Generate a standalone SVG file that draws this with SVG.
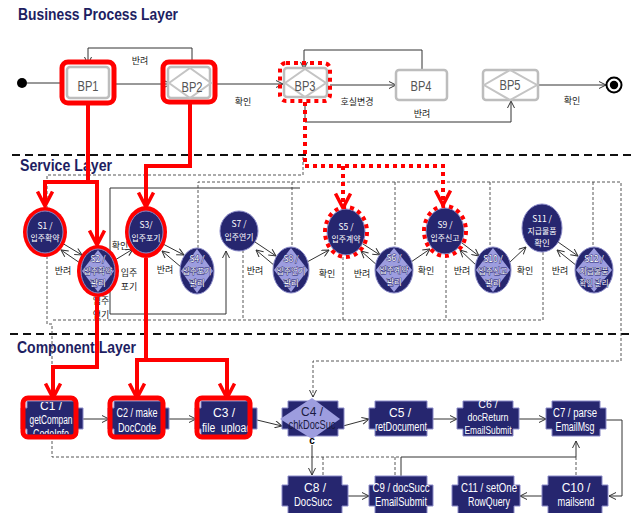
<svg xmlns="http://www.w3.org/2000/svg" width="632" height="513" viewBox="0 0 632 513">
<defs>
<style>
.title{font-family:'Liberation Sans',Arial,sans-serif;font-weight:bold;fill:#1e1e62;font-size:16px}
.lbl{font-family:'Noto Sans CJK KR',sans-serif;font-size:9px;fill:#222;text-anchor:middle}
.bp{fill:#fff;stroke:#bdbdbd;stroke-width:2.5}
.bpd{fill:none;stroke:#c4c4c4;stroke-width:2}
.bpt{font-family:'Liberation Sans',Arial,sans-serif;font-size:14px;fill:#555;text-anchor:middle}
.ln{fill:none;stroke:#333;stroke-width:1}
.dl{fill:none;stroke:#444;stroke-width:0.9;stroke-dasharray:3,2}
.div{fill:none;stroke:#111;stroke-width:2;stroke-dasharray:8,5}
.red{fill:none;stroke:#f00;stroke-width:4}
.redd{fill:none;stroke:#f00;stroke-width:4;stroke-dasharray:4,4}
.sn{fill:#26266f;stroke:#8a8ac8;stroke-width:1}
.dia{fill:#9d9ddf}
.st{font-family:'Noto Sans CJK KR',sans-serif;font-size:8.5px;fill:#fff;text-anchor:middle}
.so{stroke:#26266f;stroke-width:0.9;paint-order:stroke}
.cp{fill:#26266f;stroke:#8a8ac8;stroke-width:1}
.ct{font-family:'Liberation Sans',Arial,sans-serif;font-size:12px;fill:#fff;text-anchor:middle}
</style>
<marker id="a" viewBox="0 0 8 8" refX="7.5" refY="4" markerWidth="8" markerHeight="8" markerUnits="userSpaceOnUse" orient="auto">
<path d="M0.5,0.5 L7.5,4 L0.5,7.5" fill="none" stroke="#333" stroke-width="1"/>
</marker>
<marker id="r" viewBox="0 0 18 18" refX="16" refY="9" markerWidth="18" markerHeight="18" markerUnits="userSpaceOnUse" orient="auto">
<path d="M1.5,1.5 L16,9 L1.5,16.5" fill="none" stroke="#f00" stroke-width="3.5"/>
</marker>
<clipPath id="k1"><rect x="25" y="402" width="51" height="32"/></clipPath>
<clipPath id="k2"><rect x="112" y="402" width="50" height="32"/></clipPath>
<clipPath id="k3"><rect x="199" y="402" width="50" height="32"/></clipPath>
</defs>
<rect width="632" height="513" fill="#fff"/>

<!-- titles and dividers -->
<text class="title" x="18" y="20" textLength="160" lengthAdjust="spacingAndGlyphs">Business Process Layer</text>
<text class="title" x="20" y="171" textLength="92" lengthAdjust="spacingAndGlyphs">Service Layer</text>
<text class="title" x="17" y="353" textLength="119" lengthAdjust="spacingAndGlyphs">Component Layer</text>
<path class="div" d="M12,155 H632"/>
<path class="div" d="M10,334 H632"/>

<g id="connectors">
<!-- BP layer -->
<path class="ln" d="M27,83 H62"/>
<path class="ln" d="M114,84 H171" marker-end="url(#a)"/>
<path class="ln" d="M192,62 V48 H88 V64" marker-end="url(#a)"/>
<path class="ln" d="M215,84 H283" marker-end="url(#a)"/>
<path class="ln" d="M330,85 H396" marker-end="url(#a)"/>
<path class="ln" d="M422,70 V50 H304 V69" marker-end="url(#a)"/>
<path class="ln" d="M305,102 V122 H511 V101" marker-end="url(#a)"/>
<path class="ln" d="M538,85 H606" marker-end="url(#a)"/>
<text class="lbl" x="140" y="64">반려</text>
<text class="lbl" x="243" y="105">확인</text>
<text class="lbl" x="357" y="105">호실변경</text>
<text class="lbl" x="422" y="117">반려</text>
<text class="lbl" x="572" y="104">확인</text>

<!-- service dashed -->
<path class="dl" d="M303,157 V175 H47 V324 H52 V457 H400"/>
<path class="dl" d="M198,248 V182 H621 V361 H313 V397" marker-end="url(#a)"/>
<path class="dl" d="M292,182 V247 M395,182 V247 M490,182 V247 M593,182 V247"/>
<path class="dl" d="M53,320 H543 M243,250 V320 M343,257 V320 M446,255 V320 M543,252 V320"/>

<!-- gray solid frame -->
<path class="ln" stroke="#666" d="M300,188 H110 V314 H226 V251" marker-end="url(#a)"/>

<!-- service arrows -->
<path class="ln" d="M62,243 L82,255" marker-end="url(#a)"/>
<path class="ln" d="M80,263 L61,250" marker-end="url(#a)"/>
<path class="ln" d="M115,260 L133,249" marker-end="url(#a)"/>
<path class="ln" d="M163,244 L184,255" marker-end="url(#a)"/>
<path class="ln" d="M181,267 L162,251" marker-end="url(#a)"/>
<path class="ln" d="M255,242 L276,256" marker-end="url(#a)"/>
<path class="ln" d="M275,266 L256,250" marker-end="url(#a)"/>
<path class="ln" d="M307,262 L329,250" marker-end="url(#a)"/>
<path class="ln" d="M363,244 L380,255" marker-end="url(#a)"/>
<path class="ln" d="M378,266 L361,251" marker-end="url(#a)"/>
<path class="ln" d="M411,262 L430,249" marker-end="url(#a)"/>
<path class="ln" d="M462,243 L479,256" marker-end="url(#a)"/>
<path class="ln" d="M477,266 L460,250" marker-end="url(#a)"/>
<path class="ln" d="M510,262 L526,247" marker-end="url(#a)"/>
<path class="ln" d="M558,242 L578,256" marker-end="url(#a)"/>
<path class="ln" d="M577,266 L557,250" marker-end="url(#a)"/>
<text class="lbl" x="63" y="274">반려</text>
<text class="lbl" x="120" y="249">확인</text>
<text class="lbl" x="129" y="276">입주</text>
<text class="lbl" x="129" y="290">포기</text>
<text class="lbl" x="101" y="304">입주</text>
<text class="lbl" x="101" y="318">연기</text>
<text class="lbl" x="165" y="273">반려</text>
<text class="lbl" x="255" y="274">반려</text>
<text class="lbl" x="327" y="277">확인</text>
<text class="lbl" x="362" y="277">반려</text>
<text class="lbl" x="426" y="274">확인</text>
<text class="lbl" x="462" y="274">반려</text>
<text class="lbl" x="525" y="274">확인</text>
<text class="lbl" x="560" y="274">반려</text>

<!-- component connectors -->
<path class="ln" d="M83,419 H109" marker-end="url(#a)"/>
<path class="ln" d="M169,419 H196" marker-end="url(#a)"/>
<path class="ln" d="M257,420 L282,426" marker-end="url(#a)"/>
<path class="ln" d="M343,426 L369,419" marker-end="url(#a)"/>
<path class="ln" d="M433,419 H457" marker-end="url(#a)"/>
<path class="ln" d="M519,419 H546" marker-end="url(#a)"/>
<path class="ln" d="M606,420 H622 V496 H609" marker-end="url(#a)"/>
<path class="ln" d="M547,496 H520" marker-end="url(#a)"/>
<path class="ln" d="M348,496 H369" marker-end="url(#a)"/>
<path class="ln" d="M312,445 V475" marker-end="url(#a)"/>
<path class="ln" d="M401,476 V457 H576 V441" marker-end="url(#a)"/>
<path class="dl" d="M323,457 V476 M395,457 V476 M576,457 V476"/>

<!-- red trace lines -->
<path class="red" d="M88,103 V182 H45 V206" marker-end="url(#r)"/>
<path class="red" d="M88,182 H97 V245" marker-end="url(#r)"/>
<path class="red" d="M97,297 V367 H53 V398" marker-end="url(#r)"/>
<path class="red" d="M190,102 V166 H146 V207" marker-end="url(#r)"/>
<path class="red" d="M146,258 V360 H137 V398" marker-end="url(#r)"/>
<path class="red" d="M146,360 H227 V398" marker-end="url(#r)"/>
<path class="redd" d="M305,102 V166 H443 V205" marker-end="url(#r)"/>
<path class="redd" d="M343,166 V208" marker-end="url(#r)"/>
</g>

<!-- BP nodes -->
<circle cx="22" cy="83" r="5" fill="#000"/>
<g id="end"><circle cx="614" cy="85" r="7.5" fill="#fff" stroke="#000" stroke-width="2"/><circle cx="614" cy="85" r="4.2" fill="#000"/></g>
<g id="BP1">
<rect x="62" y="62" width="52" height="41" rx="6" fill="none" stroke="#f00" stroke-width="5"/>
<rect class="bp" x="67" y="67" width="42" height="31" rx="3"/>
<text class="bpt" x="88" y="91" textLength="21" lengthAdjust="spacingAndGlyphs">BP1</text>
</g>
<g id="BP2">
<rect x="163" y="62" width="52" height="40" rx="6" fill="none" stroke="#f00" stroke-width="5"/>
<rect class="bp" x="168" y="67" width="42" height="31" rx="3"/>
<polygon class="bpd" points="169,83 190,68 211,83 190,98"/>
<text class="bpt" x="192" y="92" textLength="21" lengthAdjust="spacingAndGlyphs">BP2</text>
</g>
<g id="BP3">
<rect class="bp" x="284" y="68" width="43" height="29" rx="3"/>
<polygon class="bpd" points="285,83 305,69 326,83 305,97"/>
<text class="bpt" x="305" y="91" textLength="21" lengthAdjust="spacingAndGlyphs">BP3</text>
<rect x="280" y="63" width="50" height="38" rx="6" fill="none" stroke="#f00" stroke-width="4" stroke-dasharray="4,4"/>
</g>
<g id="BP4">
<rect class="bp" x="396" y="70" width="51" height="30" rx="3"/>
<text class="bpt" x="421" y="91" textLength="21" lengthAdjust="spacingAndGlyphs">BP4</text>
</g>
<g id="BP5">
<rect class="bp" x="483" y="70" width="55" height="30" rx="3"/>
<polygon class="bpd" points="484,85 510,70 537,85 510,100"/>
<text class="bpt" x="510" y="90" textLength="21" lengthAdjust="spacingAndGlyphs">BP5</text>
</g>

<!-- Service nodes -->
<g id="S1">
<ellipse cx="45" cy="232" rx="22" ry="25" fill="#f00"/>
<ellipse class="sn" cx="45" cy="232" rx="18" ry="21"/>
<text class="st" x="45" y="229">S1 /</text>
<text class="st" x="45" y="241" textLength="29" lengthAdjust="spacingAndGlyphs">입주확약</text>
</g>
<g id="S2">
<ellipse cx="98" cy="271" rx="21" ry="26" fill="#f00"/>
<ellipse class="sn" cx="98" cy="271" rx="17" ry="22"/>
<polygon class="dia" points="98,250 114,271 98,292 82,271"/>
<text class="st so" x="98" y="262">S2 /</text>
<text class="st so" x="98" y="274" textLength="29" lengthAdjust="spacingAndGlyphs">입주확약</text>
<text class="st so" x="98" y="286">관리</text>
</g>
<g id="S3">
<ellipse cx="146" cy="232" rx="21" ry="26" fill="#f00"/>
<ellipse class="sn" cx="146" cy="232" rx="17" ry="21"/>
<text class="st" x="146" y="228">S3/</text>
<text class="st" x="146" y="241" textLength="29" lengthAdjust="spacingAndGlyphs">입주포기</text>
</g>
<g id="S4">
<ellipse class="sn" cx="197" cy="271" rx="17" ry="23"/>
<polygon class="dia" points="197,249 213,271 197,293 181,271"/>
<text class="st so" x="197" y="262">S4 /</text>
<text class="st so" x="197" y="274" textLength="29" lengthAdjust="spacingAndGlyphs">입주포기</text>
<text class="st so" x="197" y="286">관리</text>
</g>
<g id="S7">
<ellipse class="sn" cx="239" cy="231" rx="19" ry="20"/>
<text class="st" x="239" y="227">S7 /</text>
<text class="st" x="239" y="240" textLength="29" lengthAdjust="spacingAndGlyphs">입주연기</text>
</g>
<g id="S8">
<ellipse class="sn" cx="291" cy="270" rx="18" ry="23"/>
<polygon class="dia" points="291,248 308,270 291,292 274,270"/>
<text class="st so" x="291" y="262">S8 /</text>
<text class="st so" x="291" y="274" textLength="29" lengthAdjust="spacingAndGlyphs">입주연기</text>
<text class="st so" x="291" y="286">관리</text>
</g>
<g id="S5">
<ellipse class="sn" cx="346" cy="232" rx="19" ry="23"/>
<text class="st" x="346" y="230">S5 /</text>
<text class="st" x="346" y="242" textLength="29" lengthAdjust="spacingAndGlyphs">입주계약</text>
<ellipse cx="346" cy="232" rx="21" ry="25" fill="none" stroke="#f00" stroke-width="4" stroke-dasharray="4,4"/>
</g>
<g id="S6">
<ellipse class="sn" cx="394" cy="270" rx="19" ry="23"/>
<polygon class="dia" points="394,248 412,270 394,292 376,270"/>
<text class="st so" x="394" y="261">S6 /</text>
<text class="st so" x="394" y="273" textLength="29" lengthAdjust="spacingAndGlyphs">입주계약</text>
<text class="st so" x="394" y="285">관리</text>
</g>
<g id="S9">
<ellipse class="sn" cx="445" cy="231" rx="19" ry="23"/>
<text class="st" x="445" y="228">S9 /</text>
<text class="st" x="445" y="241" textLength="29" lengthAdjust="spacingAndGlyphs">입주신고</text>
<ellipse cx="445" cy="231" rx="21" ry="25" fill="none" stroke="#f00" stroke-width="4" stroke-dasharray="4,4"/>
</g>
<g id="S10">
<ellipse class="sn" cx="493" cy="270" rx="18" ry="23"/>
<polygon class="dia" points="493,248 510,270 493,292 476,270"/>
<text class="st so" x="493" y="262">S10 /</text>
<text class="st so" x="493" y="274" textLength="29" lengthAdjust="spacingAndGlyphs">입주신고</text>
<text class="st so" x="493" y="286">관리</text>
</g>
<g id="S11">
<ellipse class="sn" cx="542" cy="228" rx="20" ry="24"/>
<text class="st" x="542" y="222">S11 /</text>
<text class="st" x="542" y="234" textLength="29" lengthAdjust="spacingAndGlyphs">지급물품</text>
<text class="st" x="542" y="246">확인</text>
</g>
<g id="S12">
<ellipse class="sn" cx="594" cy="270" rx="19" ry="23"/>
<polygon class="dia" points="594,248 612,270 594,292 576,270"/>
<text class="st so" x="594" y="262">S12 /</text>
<text class="st so" x="594" y="274" textLength="29" lengthAdjust="spacingAndGlyphs">지급물품</text>
<text class="st so" x="594" y="286" textLength="29" lengthAdjust="spacingAndGlyphs">확인 관리</text>
</g>

<!-- Component nodes -->
<g id="C1">
<path class="cp" d="M27,401 H77 V408 H83 V429 H77 V436 H27 V429 H21 V408 H27 Z"/>
<g clip-path="url(#k1)">
<text class="ct" x="51" y="410">C1 /</text>
<text class="ct" x="51" y="424" textLength="43" lengthAdjust="spacingAndGlyphs">getCompan</text>
<text class="ct" x="51" y="438" textLength="36" lengthAdjust="spacingAndGlyphs">CodeInfo</text>
</g>
<rect x="23" y="398" width="53" height="39" rx="5" fill="none" stroke="#f00" stroke-width="5"/>
</g>
<g id="C2">
<path class="cp" d="M114,401 H163 V408 H169 V429 H163 V436 H114 V429 H108 V408 H114 Z"/>
<g clip-path="url(#k2)">
<text class="ct" x="137" y="417" textLength="41" lengthAdjust="spacingAndGlyphs">C2 / make</text>
<text class="ct" x="137" y="432" textLength="38" lengthAdjust="spacingAndGlyphs">DocCode</text>
</g>
<rect x="110" y="398" width="53" height="39" rx="5" fill="none" stroke="#f00" stroke-width="5"/>
</g>
<g id="C3">
<path class="cp" d="M201,401 H251 V408 H257 V429 H251 V436 H201 V429 H195 V408 H201 Z"/>
<g clip-path="url(#k3)">
<text class="ct" x="224" y="417">C3 /</text>
<text class="ct" x="227" y="432" textLength="50" lengthAdjust="spacingAndGlyphs">file_upload</text>
</g>
<rect x="197" y="398" width="53" height="39" rx="5" fill="none" stroke="#f00" stroke-width="5"/>
</g>
<g id="C4">
<path class="cp" d="M288,401 H338 V408 H344 V429 H338 V436 H288 V429 H282 V408 H288 Z"/>
<polygon class="dia" points="280,419 312,398 340,419 312,439"/>
<text class="ct" x="312" y="416" style="fill:#1a1a40">C4 /</text>
<text class="ct" x="312" y="429" textLength="47" lengthAdjust="spacingAndGlyphs" style="fill:#1a1a40">chkDocSuc</text>
<text x="312" y="444" font-family="Liberation Sans, Arial, sans-serif" font-size="10" font-weight="bold" fill="#000" text-anchor="middle">c</text>
</g>
<g id="C5">
<path class="cp" d="M375,401 H427 V408 H433 V429 H427 V436 H375 V429 H369 V408 H375 Z"/>
<text class="ct" x="400" y="417">C5 /</text>
<text class="ct" x="401" y="431" textLength="52" lengthAdjust="spacingAndGlyphs">retDocument</text>
</g>
<g id="C6">
<path class="cp" d="M463,401 H513 V408 H519 V429 H513 V436 H463 V429 H457 V408 H463 Z"/>
<text class="ct" x="488" y="408" style="font-size:10.5px">C6 /</text>
<text class="ct" x="488" y="421" style="font-size:10.5px" textLength="41" lengthAdjust="spacingAndGlyphs">docReturn</text>
<text class="ct" x="488" y="434" style="font-size:10.5px" textLength="47" lengthAdjust="spacingAndGlyphs">EmailSubmit</text>
</g>
<g id="C7">
<path class="cp" d="M552,401 H600 V408 H606 V429 H600 V436 H552 V429 H546 V408 H552 Z"/>
<text class="ct" x="575" y="417" textLength="44" lengthAdjust="spacingAndGlyphs">C7 / parse</text>
<text class="ct" x="575" y="431" textLength="39" lengthAdjust="spacingAndGlyphs">EmailMsg</text>
</g>
<g id="C8">
<path class="cp" d="M288,476 H342 V485 H348 V506 H342 V520 H288 V506 H282 V485 H288 Z"/>
<text class="ct" x="315" y="492">C8 /</text>
<text class="ct" x="313" y="506" textLength="38" lengthAdjust="spacingAndGlyphs">DocSucc</text>
</g>
<g id="C9">
<path class="cp" d="M375,476 H427 V485 H433 V506 H427 V520 H375 V506 H369 V485 H375 Z"/>
<text class="ct" x="401" y="492" textLength="57" lengthAdjust="spacingAndGlyphs">C9 / docSucc</text>
<text class="ct" x="401" y="506" textLength="52" lengthAdjust="spacingAndGlyphs">EmailSubmit</text>
</g>
<g id="C11">
<path class="cp" d="M458,476 H514 V485 H520 V506 H514 V520 H458 V506 H452 V485 H458 Z"/>
<text class="ct" x="489" y="492" textLength="56" lengthAdjust="spacingAndGlyphs">C11 / setOne</text>
<text class="ct" x="489" y="506" textLength="42" lengthAdjust="spacingAndGlyphs">RowQuery</text>
</g>
<g id="C10">
<path class="cp" d="M548,476 H602 V485 H608 V506 H602 V520 H548 V506 H542 V485 H548 Z"/>
<text class="ct" x="576" y="492">C10 /</text>
<text class="ct" x="576" y="506" textLength="37" lengthAdjust="spacingAndGlyphs">mailsend</text>
</g>
</svg>
